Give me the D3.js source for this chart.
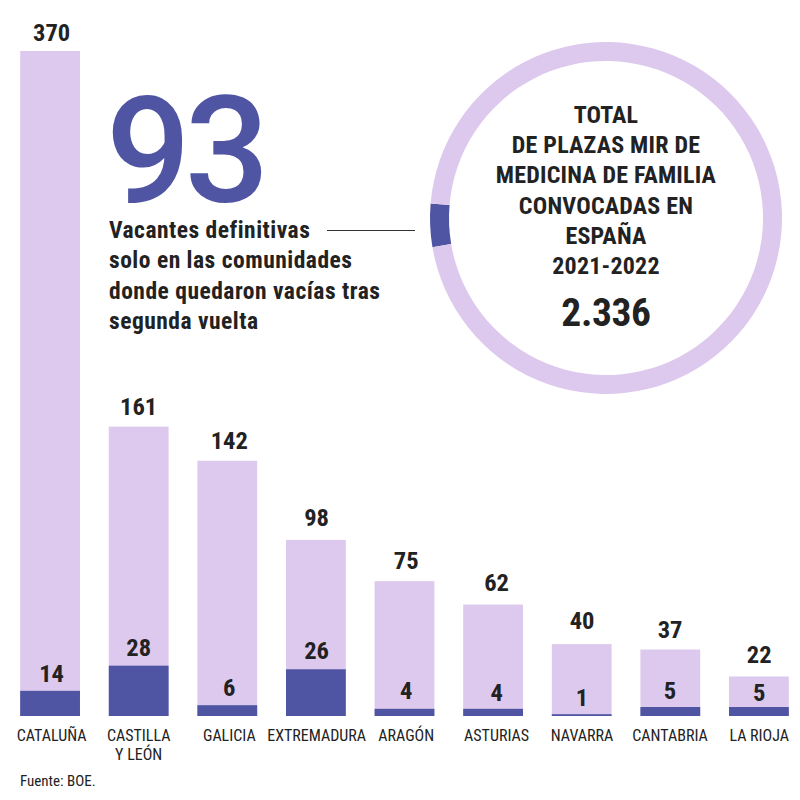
<!DOCTYPE html>
<html>
<head>
<meta charset="utf-8">
<script src="https://cdn.jsdelivr.net/npm/d3@7"></script>
<style>
body { margin: 0; background: #fff; }
text { font-family: "Roboto Condensed", Roboto, sans-serif; fill: #222; }
</style>
</head>
<body>
<svg width="800" height="800"></svg>
<script>
var regions = ["CATALUÑA", "CASTILLA|Y LEÓN", "GALICIA", "EXTREMADURA", "ARAGÓN", "ASTURIAS", "NAVARRA", "CANTABRIA", "LA RIOJA"];
var totals = [370, 161, 142, 98, 75, 62, 40, 37, 22];
var vacantes = [14, 28, 6, 26, 4, 4, 1, 5, 5];
var donut = [93, 2243];
var circleLines = ["TOTAL", "DE PLAZAS MIR DE", "MEDICINA DE FAMILIA", "CONVOCADAS EN", "ESPAÑA", "2021-2022"];
var noteLines = ["Vacantes definitivas", "solo en las comunidades", "donde quedaron vacías tras", "segunda vuelta"];

// labels were hand placed in the original, so they don't sit on the bar centre
var labelShift = [1.5, 0, 2, 0.7, 1.7, 3.5, 0.3, -0.3, 0.3];
var totalGap = [10, 11.5, 11.5, 14, 12, 13.5, 15, 12, 13.5];
var vacanteGap = [9, 9.5, 9, 10.5, 9.5, 7.5, 8, 8, 6];

var light = "#ddc9ed", dark = "#4f55a3";
var svg = d3.select("svg");

var x = d3.scaleBand().domain(regions).range([6, 803]).paddingInner(0.325).paddingOuter(0.16);
var y = d3.scaleLinear().domain([0, 370]).range([716, 51]);

function labelX(d, i){ return x(d) + x.bandwidth() / 2 + labelShift[i]; }

var bars = svg.selectAll("g.bar").data(regions).enter().append("g").attr("class", "bar");

bars.append("rect").attr("x", function(d){ return x(d); })
    .attr("width", x.bandwidth())
    .attr("y", function(d, i){ return y(totals[i]); })
    .attr("height", function(d, i){ return y(0) - y(totals[i]); })
    .attr("fill", light);

bars.append("rect").attr("x", function(d){ return x(d); })
    .attr("width", x.bandwidth())
    .attr("y", function(d, i){ return y(vacantes[i]); })
    .attr("height", function(d, i){ return y(0) - y(vacantes[i]); })
    .attr("fill", dark);

bars.append("text").attr("x", labelX)
    .attr("y", function(d, i){ return y(totals[i]) - totalGap[i]; })
    .attr("text-anchor", "middle")
    .style("font-size", "24.5px").style("font-weight", 700)
    .text(function(d, i){ return totals[i]; });

bars.append("text").attr("x", labelX)
    .attr("y", function(d, i){ return y(vacantes[i]) - vacanteGap[i]; })
    .attr("text-anchor", "middle")
    .style("font-size", "24.5px").style("font-weight", 700)
    .text(function(d, i){ return vacantes[i]; });

bars.each(function(d, i){
    var parts = d.split("|");
    var g = d3.select(this);
    parts.forEach(function(p, j){
        g.append("text").attr("x", labelX(d, i))
            .attr("y", 740.5 + j * 19)
            .attr("text-anchor", "middle")
            .style("font-size", "16px")
            .text(p);
    });
});

svg.append("text").attr("x", 20).attr("y", 785.5).style("font-size", "15px").text("Fuente: BOE.");

// circle
var cx = 606, cy = 218;
var pie = d3.pie().sort(null).startAngle(-Math.PI / 2 - 0.167).endAngle(1.5 * Math.PI - 0.167);
var arc = d3.arc().innerRadius(157).outerRadius(176);
svg.selectAll("path.ring").data(pie(donut)).enter().append("path")
    .attr("class", "ring")
    .attr("transform", "translate(" + cx + "," + cy + ")")
    .attr("d", arc)
    .attr("fill", function(d, i){ return i == 0 ? dark : light; });

svg.selectAll("text.cl").data(circleLines).enter().append("text")
    .attr("class", "cl")
    .attr("x", 606)
    .attr("y", function(d, i){ return 122.7 + i * 30.3; })
    .attr("text-anchor", "middle")
    .style("font-size", "24px").style("font-weight", 700).style("letter-spacing", "0.2px")
    .text(function(d){ return d; });

svg.append("text").attr("x", 606).attr("y", 326).attr("text-anchor", "middle")
    .style("font-size", "39.5px").style("font-weight", 700).style("letter-spacing", "-0.4px").text("2.336");

svg.append("text").attr("x", 106).attr("y", 201.5)
    .style("font-family", "Roboto").style("font-stretch", "100%").style("letter-spacing", "-6px")
    .style("font-size", "149px").style("font-weight", 500).style("fill", dark).text("93");

svg.selectAll("text.note").data(noteLines).enter().append("text")
    .attr("class", "note")
    .attr("x", 109)
    .attr("y", function(d, i){ return 238 + i * 30.3; })
    .style("font-size", "23.5px").style("font-weight", 700).style("letter-spacing", "0.5px")
    .text(function(d){ return d; });

svg.append("line").attr("x1", 327).attr("x2", 415).attr("y1", 230.5).attr("y2", 230.5)
    .attr("stroke", "#333").attr("stroke-width", 1);
</script>
</body>
</html>
